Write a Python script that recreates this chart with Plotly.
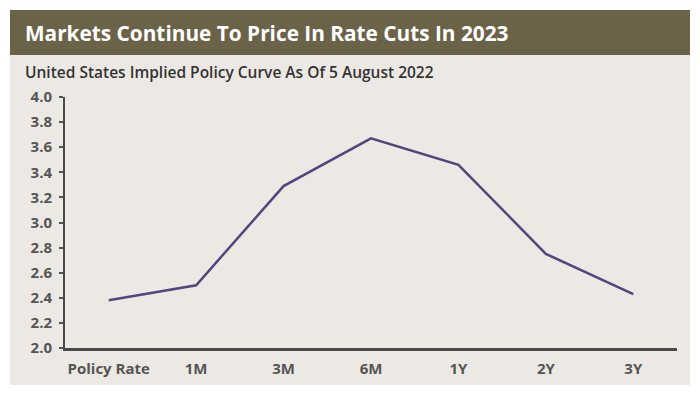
import plotly.graph_objects as go

categories = ["Policy Rate", "1M", "3M", "6M", "1Y", "2Y", "3Y"]
rates = [2.38, 2.50, 3.29, 3.67, 3.46, 2.75, 2.43]
y_ticks = [2.0, 2.2, 2.4, 2.6, 2.8, 3.0, 3.2, 3.4, 3.6, 3.8, 4.0]

OFF = 8  # page body margin
W, H = 700, 394
L, T = 65 - OFF, 97 - OFF
R = W - (677 - OFF)
B = H - (348 - OFF)
pw, ph = W - L - R, H - T - B

def px(x):
    return (x - OFF - L) / pw

def py(y):
    return (H - B - (y - OFF)) / ph

FONT = "Open Sans"

fig = go.Figure()
fig.add_trace(go.Scatter(
    x=categories, y=rates, mode="lines",
    line=dict(color="#54457e", width=2.5),
    hoverinfo="x+y",
))

fig.add_shape(type="rect", xref="paper", yref="paper",
              x0=px(10), x1=px(690), y0=py(385), y1=py(10),
              fillcolor="#ece9e4", line=dict(width=0), layer="below")
fig.add_shape(type="rect", xref="paper", yref="paper",
              x0=px(10), x1=px(690), y0=py(55), y1=py(10),
              fillcolor="#6b6348", line=dict(width=0), layer="below")

fig.add_annotation(xref="paper", yref="paper", x=px(23), y=py(33),
                   xanchor="left", yanchor="middle", showarrow=False,
                   text="<b>Markets Continue To Price In Rate Cuts In 2023</b>",
                   font=dict(family=FONT, size=20.8, color="#ffffff"))
fig.add_annotation(xref="paper", yref="paper", x=px(23), y=py(72),
                   xanchor="left", yanchor="middle", showarrow=False,
                   text="United States Implied Policy Curve As Of 5 August 2022",
                   font=dict(family=FONT, size=15.5, color="#333333", weight=600))

fig.update_layout(
    width=W, height=H,
    margin=dict(l=L, r=R, t=T, b=B),
    paper_bgcolor="#ffffff", plot_bgcolor="rgba(0,0,0,0)",
    showlegend=False,
    font=dict(family=FONT, color="#555555"),
)
fig.update_xaxes(
    type="category", categoryorder="array", categoryarray=categories,
    range=[-0.5, 6.5], showgrid=False, zeroline=False,
    showline=True, linecolor="#4a4a4a", linewidth=2.5,
    ticks="", tickfont=dict(family=FONT, size=15, color="#555555", weight="bold"),
    ticklabelstandoff=5,
)
fig.update_yaxes(
    range=[2.0, 4.0], tickvals=y_ticks, ticktext=[f"{v:.1f}" for v in y_ticks],
    showgrid=False, zeroline=False,
    showline=True, linecolor="#4a4a4a", linewidth=2,
    ticks="outside", ticklen=4, tickwidth=1.5, tickcolor="#555555",
    tickfont=dict(family=FONT, size=15, color="#555555", weight="bold"),
    ticklabelstandoff=4,
)

fig.write_html("out.html")
